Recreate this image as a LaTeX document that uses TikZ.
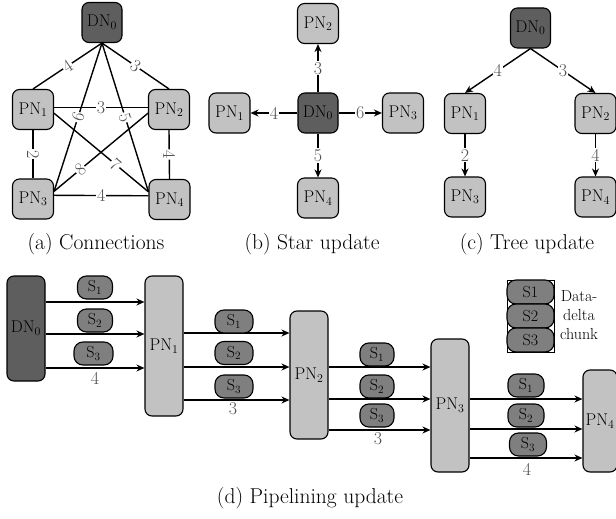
\documentclass[tikz,border=0pt]{standalone}
\usetikzlibrary{arrows.meta,calc}
\definecolor{darkg}{HTML}{5E5E5E}
\definecolor{lightg}{HTML}{C2C2C2}
\definecolor{pillg}{HTML}{7F7F7F}
\definecolor{labelg}{HTML}{505050}
\begin{document}
\begin{tikzpicture}[x=1pt,y=-1pt,
 every node/.style={font=\rmfamily\fontsize{17}{19}\selectfont, inner sep=0pt},
 base/.style={draw=black, line width=1.1pt, rounded corners=7pt},
 pn/.style={base, fill=lightg, minimum width=41pt, minimum height=40pt},
 dn/.style={base, fill=darkg, minimum width=40pt, minimum height=40pt},
 pill/.style={draw=black, line width=1.1pt, fill=pillg, rounded corners=9pt, minimum height=23pt, font=\rmfamily\fontsize{16}{18}\selectfont},
 lbl/.style={fill=white, text=labelg, inner sep=1pt, font=\rmfamily\fontsize{18}{20}\selectfont},
 plbl/.style={text=labelg, font=\rmfamily\fontsize{18}{20}\selectfont},
 ln/.style={line width=1.4pt},
 arr/.style={ln, -{Stealth[length=8pt,width=7pt]}},
 captext/.style={font=\rmfamily\fontsize{21.5}{24}\selectfont}
]
\useasboundingbox (0,0) rectangle (616,519);

% (a) Connections
\node[dn] (a0) at (102,22.5) {DN\textsubscript{0}};
\node[pn] (a1) at (33,109.5) {PN\textsubscript{1}};
\node[pn] (a2) at (169,109.5) {PN\textsubscript{2}};
\node[pn] (a3) at (33,199) {PN\textsubscript{3}};
\node[pn] (a4) at (169.5,199.5) {PN\textsubscript{4}};
\draw[ln] (a0.south) -- node[lbl,sloped]{4} (a1.north);
\draw[ln] (a0.south) -- node[lbl,sloped]{3} (a2.north);
\draw[ln] (a0.south) -- node[lbl,sloped]{6} (a3.20);
\draw[ln] (a0.south) -- node[lbl,sloped]{5} (a4.160);
\draw[ln] (a1.5) -- node[lbl]{3} (a2.175);
\draw[ln] (a1.south) -- node[lbl,sloped]{2} (a3.north);
\draw[ln] (a2.south) -- node[lbl,sloped]{4} (a4.north);
\draw[ln] (a1.-10) -- node[lbl,sloped,pos=0.65]{7} (a4.160);
\draw[ln] (a2.190) -- node[lbl,sloped,pos=0.72]{8} (a3.20);
\draw[ln] (a3.10) -- node[lbl]{4} (a4.170);
\node[captext] (capa) at (96,244) {(a) Connections};

% (b) Star update
\node[dn] (b0) at (318,113) {DN\textsubscript{0}};
\node[pn] (b2) at (318,23.5) {PN\textsubscript{2}};
\node[pn] (b1) at (229.5,113) {PN\textsubscript{1}};
\node[pn] (b3) at (403,113) {PN\textsubscript{3}};
\node[pn] (b4) at (318,198) {PN\textsubscript{4}};
\draw[arr] (b0) -- node[lbl]{3} (b2);
\draw[arr] (b0) -- node[lbl]{4} (b1);
\draw[arr] (b0) -- node[lbl]{6} (b3);
\draw[arr] (b0) -- node[lbl]{5} (b4);
\node[captext] (capb) at (312,244) {(b) Star update};

% (c) Tree update
\node[dn] (c0) at (530.5,28) {DN\textsubscript{0}};
\node[pn] (c1) at (465,113.5) {PN\textsubscript{1}};
\node[pn] (c2) at (595.5,113.5) {PN\textsubscript{2}};
\node[pn] (c3) at (465,197) {PN\textsubscript{3}};
\node[pn] (c4) at (595.5,197) {PN\textsubscript{4}};
\draw[arr] (c0.south) -- node[lbl]{4} (c1.north);
\draw[arr] (c0.south) -- node[lbl]{3} (c2.north);
\draw[arr] (c1) -- node[lbl]{2} (c3);
\draw[arr] (c2) -- node[lbl]{4} (c4);
\node[captext] (capc) at (527,244) {(c) Tree update};

% (d) Pipelining update
\node[dn, minimum width=38pt, minimum height=105pt] (d0) at (26,328.5) {DN\textsubscript{0}};
\node[pn, minimum width=38pt, minimum height=140pt] (p1) at (164,346) {PN\textsubscript{1}};
\node[pn, minimum width=38pt, minimum height=128pt] (p2) at (309,375) {PN\textsubscript{2}};
\node[pn, minimum width=38pt, minimum height=133pt] (p3) at (450,405.5) {PN\textsubscript{3}};
\node[pn, minimum width=34pt, minimum height=102pt] (p4) at (600,421) {PN\textsubscript{4}};

\foreach \yy in {302,334,368} \draw[arr] (d0.east |- 0,\yy) -- (p1.west |- 0,\yy);
\node[pill, minimum width=35pt] (s11) at (95,287.5) {S\textsubscript{1}};
\node[pill, minimum width=35pt] (s12) at (95,320.5) {S\textsubscript{2}};
\node[pill, minimum width=39pt] (s13) at (93.5,353.5) {S\textsubscript{3}};
\node[plbl] (l1) at (95,378) {4};

\foreach \yy in {333,367,400} \draw[arr] (p1.east |- 0,\yy) -- (p2.west |- 0,\yy);
\node[pill, minimum width=38pt] (s21) at (234,321.5) {S\textsubscript{1}};
\node[pill, minimum width=38pt] (s22) at (234,353) {S\textsubscript{2}};
\node[pill, minimum width=38pt] (s23) at (234,386.5) {S\textsubscript{3}};
\node[plbl] (l2) at (233,409) {3};

\foreach \yy in {367,399,430} \draw[arr] (p2.east |- 0,\yy) -- (p3.west |- 0,\yy);
\node[pill, minimum width=34pt] (s31) at (377,354.5) {S\textsubscript{1}};
\node[pill, minimum width=34pt] (s32) at (377,386.5) {S\textsubscript{2}};
\node[pill, minimum width=34pt] (s33) at (377,415.5) {S\textsubscript{3}};
\node[plbl] (l3) at (378,439) {3};

\foreach \yy in {399,429,458} \draw[arr] (p3.east |- 0,\yy) -- (p4.west |- 0,\yy);
\node[pill, minimum width=36pt] (s41) at (526,385.5) {S\textsubscript{1}};
\node[pill, minimum width=36pt] (s42) at (526,415.5) {S\textsubscript{2}};
\node[pill, minimum width=37pt] (s43) at (528,444.5) {S\textsubscript{3}};
\node[plbl] (l4) at (527,469) {4};

% legend
\node[draw=black, line width=0.8pt, minimum width=47pt, minimum height=72pt] (leg) at (530.5,316) {};
\node[pill, minimum width=47pt, minimum height=24pt] (g1) at (530.5,292) {S1};
\node[pill, minimum width=47pt, minimum height=24pt] (g2) at (530.5,316) {S2};
\node[pill, minimum width=47pt, minimum height=24pt] (g3) at (530.5,340) {S3};
\node[align=center, font=\rmfamily\fontsize{16}{19}\selectfont] (legt) at (579,315) {Data-\\delta\\chunk};

\node[captext] (capd) at (310,498) {(d) Pipelining update};
\end{tikzpicture}
\end{document}
